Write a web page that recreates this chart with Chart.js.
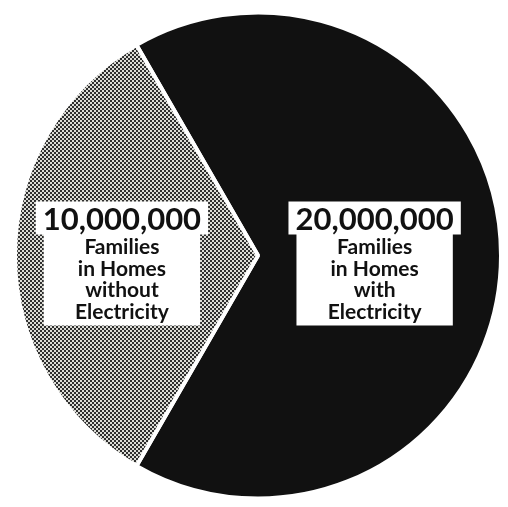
<!DOCTYPE html>
<html>
<head>
<meta charset="utf-8">
<script src="https://cdn.jsdelivr.net/npm/chart.js@4.4.1/dist/chart.umd.min.js"></script>
<style>
  html, body { margin: 0; padding: 0; background: #fff; }
  #wrap { width: 508px; height: 507px; }
</style>
</head>
<body>
<div id="wrap"><canvas id="chart"></canvas></div>
<script>
// values
var categories = ["with Electricity", "without Electricity"];
var families = [20000000, 10000000];
var numberLabels = ["20,000,000", "10,000,000"];
var textLines = [
    ["Families", "in Homes", "with", "Electricity"],
    ["Families", "in Homes", "without", "Electricity"]
];

// checkered fill for the smaller slice
function makeChecker() {
    var c = document.createElement("canvas");
    c.width = 4; c.height = 4;
    var g = c.getContext("2d");
    g.fillStyle = "#2e2e2e";
    g.fillRect(0, 0, 4, 4);
    g.fillStyle = "#dcdcd6";
    g.fillRect(0, 0, 2, 2);
    g.fillRect(2, 2, 2, 2);
    return g.createPattern(c, "repeat");
}

var labelPlugin = {
    id: "boxLabels",
    afterDatasetsDraw: function(chart) {
        var ctx = chart.ctx;
        var meta = chart.getDatasetMeta(0);
        var radiusFactor = [0.48, 0.56];
        meta.data.forEach(function(arc, i) {
            var p = arc.getProps(["x", "y", "startAngle", "endAngle", "outerRadius"], true);
            var mid = (p.startAngle + p.endAngle) / 2;
            var cx = p.x + Math.cos(mid) * p.outerRadius * radiusFactor[i];
            var cy = p.y + Math.sin(mid) * p.outerRadius * radiusFactor[i];

            ctx.save();
            ctx.font = "bold 31px Lato";
            var topW = ctx.measureText(numberLabels[i]).width + 14;
            ctx.font = "bold 21px Lato";
            var subW = 0;
            textLines[i].forEach(function(t) { subW = Math.max(subW, ctx.measureText(t).width); });
            subW = Math.max(subW + 24, topW - 16);

            var topY = cy - 54;
            ctx.fillStyle = "#fff";
            ctx.fillRect(cx - topW / 2, topY, topW, 33);
            ctx.fillRect(cx - subW / 2, topY + 32, subW, 92);

            ctx.fillStyle = "#111";
            ctx.textAlign = "center";
            ctx.textBaseline = "middle";
            ctx.font = "bold 31px Lato";
            ctx.fillText(numberLabels[i], cx, topY + 18);
            ctx.font = "bold 21px Lato";
            textLines[i].forEach(function(t, j) {
                ctx.fillText(t, cx, topY + 46 + j * 21.5);
            });
            ctx.restore();
        });
    }
};

var ctx = document.getElementById("chart").getContext("2d");
var chart = new Chart(ctx, {
    type: "pie",
    data: {
        labels: categories,
        datasets: [{
            data: families,
            backgroundColor: ["#111111", makeChecker()],
            borderColor: "#ffffff",
            borderWidth: 4
        }]
    },
    options: {
        responsive: true,
        maintainAspectRatio: false,
        animation: false,
        rotation: -30,
        layout: { padding: { left: 13, right: 5, top: 4, bottom: 0 } },
        plugins: {
            legend: { display: false },
            tooltip: { enabled: false }
        }
    },
    plugins: [labelPlugin]
});
</script>
</body>
</html>
